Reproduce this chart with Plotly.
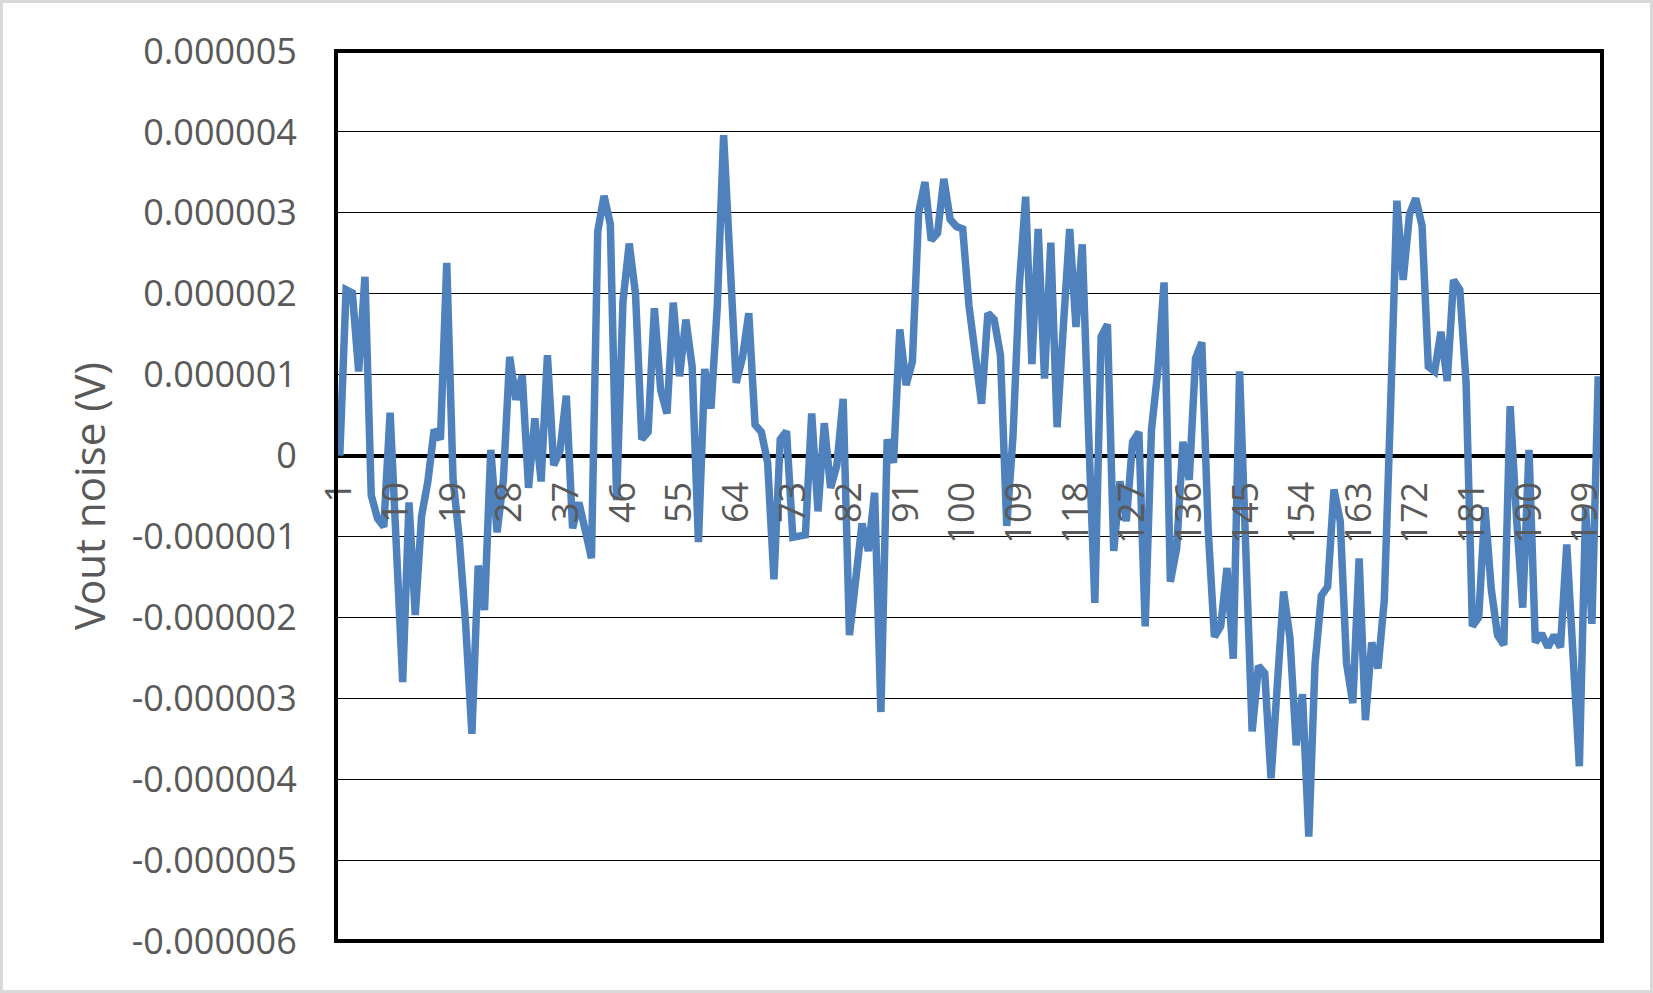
import plotly.graph_objects as go

# ---- data (in microvolts) ----
sample_index = list(range(1, 202))
vout_noise_uV = [
    0.00, 2.05, 2.01, 1.04, 2.21, -0.49, -0.78, -0.88, 0.53, -1.30,
    -2.80, -0.58, -1.97, -0.75, -0.32, 0.32, 0.20, 2.38, -0.29, -1.04,
    -2.08, -3.44, -1.36, -1.91, 0.07, -0.95, -0.30, 1.22, 0.69, 0.99,
    -0.40, 0.46, -0.32, 1.24, -0.12, 0.06, 0.74, -0.90, -0.58, -0.92,
    -1.27, 2.77, 3.21, 2.86, -0.55, 1.90, 2.62, 2.00, 0.20, 0.29,
    1.82, 0.81, 0.52, 1.89, 0.98, 1.68, 1.10, -1.07, 1.07, 0.58,
    1.85, 3.96, 2.43, 0.90, 1.21, 1.76, 0.38, 0.29, -0.09, -1.53,
    0.20, 0.30, -1.01, -1.00, -0.98, 0.52, -0.69, 0.40, -0.40, -0.12,
    0.70, -2.22, -1.50, -0.84, -1.18, -0.46, -3.17, 0.20, -0.09, 1.56,
    0.87, 1.16, 3.00, 3.38, 2.66, 2.75, 3.42, 2.92, 2.83, 2.80,
    1.85, 1.25, 0.64, 1.76, 1.68, 1.24, -0.87, 0.25, 2.10, 3.20,
    1.13, 2.80, 0.95, 2.63, 0.35, 1.60, 2.80, 1.59, 2.61, 0.30,
    -1.82, 1.47, 1.62, -1.18, -0.32, -0.81, 0.17, 0.29, -2.11, 0.32,
    1.04, 2.14, -1.56, -1.15, 0.17, -0.30, 1.20, 1.40, -0.90, -2.24,
    -2.11, -1.39, -2.51, 1.04, -1.20, -3.41, -2.60, -2.69, -3.99, -2.90,
    -1.68, -2.25, -3.58, -2.95, -4.71, -2.57, -1.73, -1.62, -0.42, -0.81,
    -2.57, -3.06, -1.27, -3.27, -2.31, -2.63, -1.79, 0.60, 3.15, 2.17,
    2.98, 3.18, 2.84, 1.10, 1.04, 1.53, 0.92, 2.17, 2.05, 0.90,
    -2.11, -2.00, -0.64, -1.65, -2.22, -2.34, 0.61, -0.75, -1.88, 0.07,
    -2.31, -2.20, -2.37, -2.22, -2.37, -1.10, -2.40, -3.84, -0.64, -2.08,
    0.98,
]
x_tick_values = list(range(1, 202, 9))
x_tick_labels = [str(v) for v in x_tick_values]
y_tick_values = [-6e-6, -5e-6, -4e-6, -3e-6, -2e-6, -1e-6, 0, 1e-6, 2e-6, 3e-6, 4e-6, 5e-6]
y_tick_labels = ["-0.000006", "-0.000005", "-0.000004", "-0.000003", "-0.000002",
                 "-0.000001", "0", "0.000001", "0.000002", "0.000003", "0.000004", "0.000005"]
y_title = "Vout noise (V)"

vout_noise_V = [v * 1e-6 for v in vout_noise_uV]

W, H = 1653, 993
ML, MR, MT, MB = 336, 51, 51, 52
PW, PH = W - ML - MR, H - MT - MB
YMIN, YMAX = -6e-6, 5e-6

font = dict(family="Open Sans, Noto Sans, sans-serif", size=36, color="#595959")
title_font = dict(family="Open Sans, Noto Sans, sans-serif", size=42, color="#595959")

fig = go.Figure(
    go.Scatter(
        x=sample_index, y=vout_noise_V, mode="lines",
        line=dict(color="#4F81BD", width=7.5), hoverinfo="skip",
    )
)

fig.update_layout(
    width=W, height=H,
    margin=dict(l=ML, r=MR, t=MT, b=MB, pad=0),
    paper_bgcolor="white", plot_bgcolor="white",
    showlegend=False, font=font,
    xaxis=dict(
        range=[0.4, 201.6], tickmode="array",
        tickvals=x_tick_values, ticktext=x_tick_labels,
        tickangle=-90, showgrid=False, zeroline=False, showline=False,
        anchor="free", position=(0 - YMIN) / (YMAX - YMIN),
        ticks="outside", ticklen=11, tickcolor="rgba(0,0,0,0)",
        tickfont=font, automargin=False,
    ),
    yaxis=dict(
        range=[YMIN, YMAX], tickmode="array",
        tickvals=y_tick_values, ticktext=y_tick_labels,
        showgrid=True, gridcolor="black", gridwidth=1.2,
        zeroline=True, zerolinecolor="black", zerolinewidth=4,
        showline=False, ticks="outside", ticklen=31, tickcolor="rgba(0,0,0,0)",
        tickfont=font, automargin=False,
        title=dict(text=y_title, font=title_font, standoff=12),
    ),
    shapes=[
        dict(type="rect", xref="paper", yref="paper", x0=0, x1=1, y0=0, y1=1,
             line=dict(color="black", width=4), layer="above"),
        dict(type="rect", xref="paper", yref="paper",
             x0=-(ML - 1.5) / PW, x1=(PW + MR - 1.5) / PW,
             y0=-(MB - 1.5) / PH, y1=(PH + MT - 1.5) / PH,
             line=dict(color="#d9d9d9", width=3), layer="above"),
    ],
)

fig.write_html("out.html", config={"displayModeBar": False},
               post_script="document.body.style.margin='0';")
